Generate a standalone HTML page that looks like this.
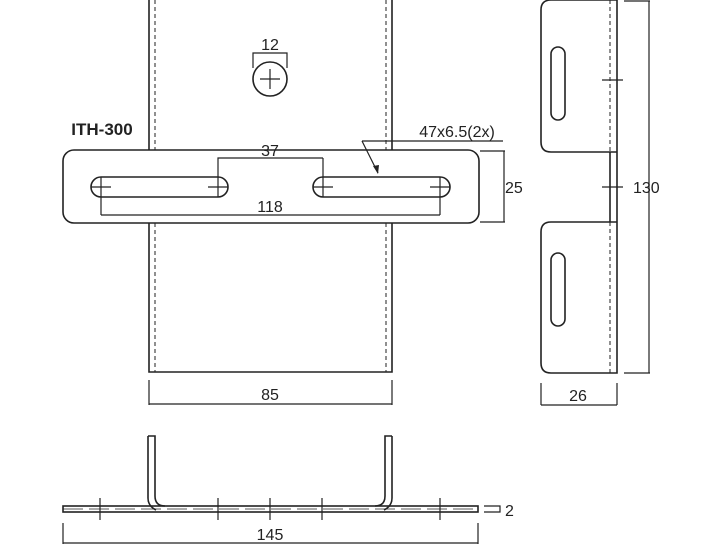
<!DOCTYPE html>
<html><head><style>body{margin:0;background:#fff}svg{display:block}</style></head><body>
<svg width="725" height="544" viewBox="0 0 725 544" xmlns="http://www.w3.org/2000/svg" font-family="Liberation Sans, sans-serif" fill="none" stroke="#222" stroke-width="1.6">
<!-- front plate -->
<path d="M149 0V150M392 0V150M149 223V372H392V223"/>
<path d="M155 0V150M386 0V150M155 223V372M386 223V372" stroke-width="1" stroke-dasharray="4 3"/>
<rect x="63" y="150" width="416" height="73" rx="11"/>
<!-- slots -->
<rect x="91" y="177" width="137" height="20" rx="10"/>
<rect x="313" y="177" width="137" height="20" rx="10"/>
<g stroke-width="1.2">
<path d="M91 187H111M101 177V215M208 187H228M218 172V197M313 187H333M323 158V197M430 187H450M440 177V215"/>
<path d="M101 215H440M218 172V158H323"/>
<circle cx="270" cy="79" r="17" stroke-width="1.6"/>
<path d="M260 79H280M270 69V89"/>
<path d="M253 68V53H287V68"/>
<path d="M362 141H503M362 141L378 173"/>
<path d="M480 151H505M480 222H505M504 151V222"/>
<path d="M149 380V405M392 380V405M149 404H392"/>
</g>
<path d="M378 174l-5-8 6-1z" fill="#222" stroke="none"/>
<g fill="#222" stroke="none" font-size="16" text-anchor="middle">
<text x="270" y="50">12</text>
<text x="270" y="156">37</text>
<text x="270" y="212">118</text>
<text x="457" y="137">47x6.5(2x)</text>
<text x="505" y="193" text-anchor="start">25</text>
<text x="270" y="400">85</text>
<text x="102" y="135" font-weight="bold" font-size="17">ITH-300</text>
<text x="633" y="193" text-anchor="start">130</text>
<text x="578" y="401">26</text>
<text x="270" y="540">145</text>
<text x="505" y="516" text-anchor="start">2</text>
</g>
<!-- side view -->
<path d="M617 0V373M551 0H617V152H551Q541 152 541 142V10Q541 0 551 0ZM551 222H617V373H551Q541 373 541 363V232Q541 222 551 222ZM610 152V222"/>
<path d="M610 0V152M610 222V373" stroke-width="1" stroke-dasharray="4 3"/>
<rect x="551" y="47" width="14" height="73" rx="7"/>
<rect x="551" y="253" width="14" height="73" rx="7"/>
<g stroke-width="1.2">
<path d="M602 80H623M602 187H623M624 1H650M624 373H650M649 1V373"/>
<path d="M541 383V405M617 383V405M541 405H617"/>
</g>
<!-- bottom view -->
<rect x="63" y="506" width="415" height="6"/>
<path d="M148 436H155V496Q155 506 165 506M148 436V498Q148 506 156 510" />
<path d="M392 436H385V496Q385 506 375 506M392 436V498Q392 506 384 510" />
<path d="M63 509H478" stroke-width="0.8" stroke-dasharray="20 6"/>
<g stroke-width="1.2">
<path d="M100 498V520M218 498V520M270 498V520M322 498V520M440 498V520"/>
<path d="M63 523V544M478 523V544M63 543H478"/>
<path d="M484 506H500V512H484"/>
</g>
</svg>
</body></html>
